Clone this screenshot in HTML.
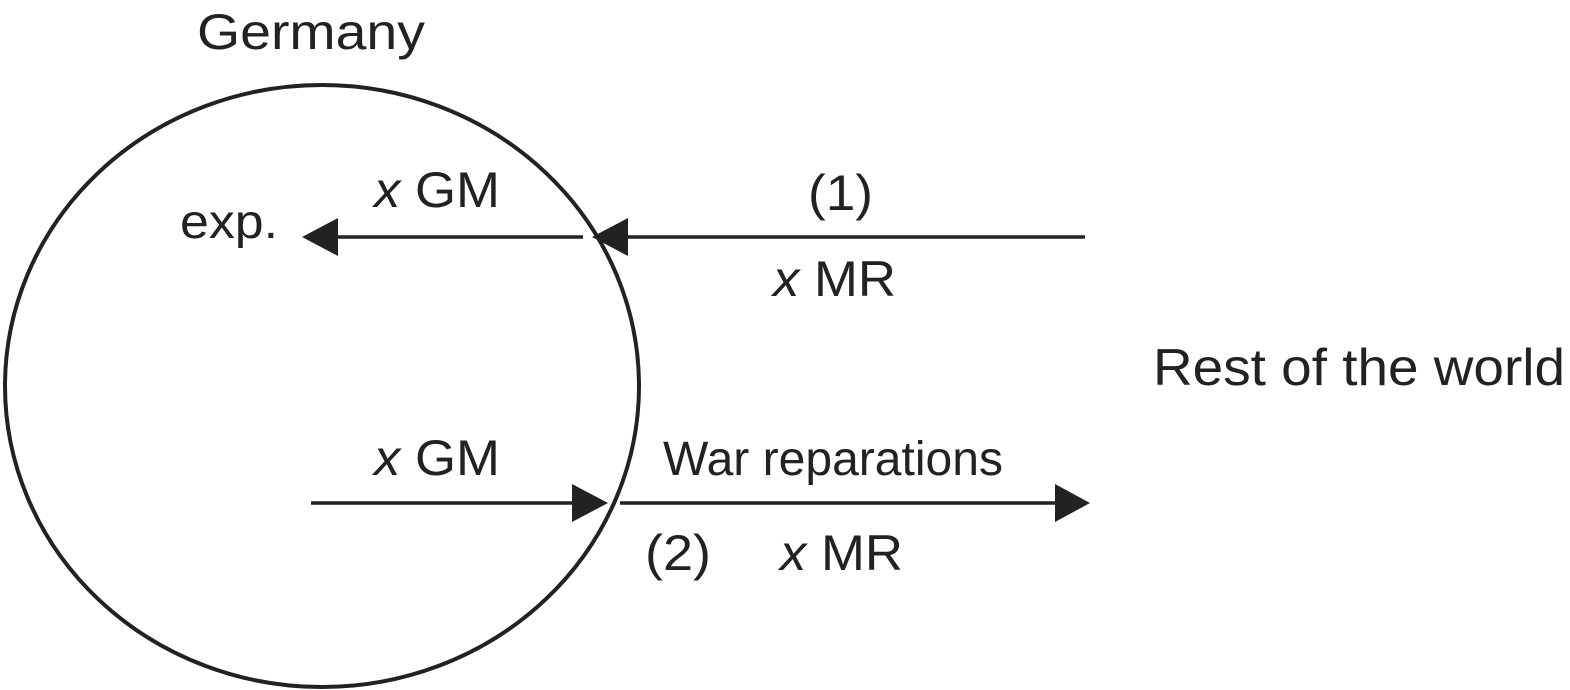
<!DOCTYPE html>
<html><head><meta charset="utf-8"><style>
html,body{margin:0;padding:0;background:#fff;}
svg{display:block;}
text{font-family:"Liberation Sans",sans-serif;fill:#222;}
</style></head><body>
<svg width="1570" height="690" viewBox="0 0 1570 690" xmlns="http://www.w3.org/2000/svg">
<ellipse cx="322" cy="386" rx="317" ry="301" fill="none" stroke="#222" stroke-width="4"/>
<line x1="1085" y1="237" x2="620" y2="237" stroke="#222" stroke-width="3.5"/>
<polygon points="592,237 628,218 628,256" fill="#222"/>
<line x1="583" y1="237" x2="330" y2="237" stroke="#222" stroke-width="3.5"/>
<polygon points="302,237 338,218 338,256" fill="#222"/>
<line x1="311" y1="503" x2="580" y2="503" stroke="#222" stroke-width="3.5"/>
<polygon points="608,503 572,484 572,522" fill="#222"/>
<line x1="620" y1="503" x2="1062" y2="503" stroke="#222" stroke-width="3.5"/>
<polygon points="1090,503 1055,484 1055,522" fill="#222"/>
<text x="197" y="49" font-size="50" textLength="228" lengthAdjust="spacingAndGlyphs">Germany</text>
<text x="180" y="238" font-size="48" textLength="98" lengthAdjust="spacingAndGlyphs">exp.</text>
<text x="374" y="207" font-size="50" textLength="126" lengthAdjust="spacingAndGlyphs"><tspan font-style="italic">x</tspan> GM</text>
<text x="808" y="210" font-size="50" textLength="65" lengthAdjust="spacingAndGlyphs">(1)</text>
<text x="773" y="296" font-size="50" textLength="123" lengthAdjust="spacingAndGlyphs"><tspan font-style="italic">x</tspan> MR</text>
<text x="1153" y="385" font-size="52" textLength="412" lengthAdjust="spacingAndGlyphs">Rest of the world</text>
<text x="374" y="475" font-size="50" textLength="126" lengthAdjust="spacingAndGlyphs"><tspan font-style="italic">x</tspan> GM</text>
<text x="663" y="475" font-size="48" textLength="340" lengthAdjust="spacingAndGlyphs">War reparations</text>
<text x="645" y="570" font-size="50" textLength="66" lengthAdjust="spacingAndGlyphs">(2)</text>
<text x="780" y="570" font-size="50" textLength="123" lengthAdjust="spacingAndGlyphs"><tspan font-style="italic">x</tspan> MR</text>
</svg>
</body></html>
